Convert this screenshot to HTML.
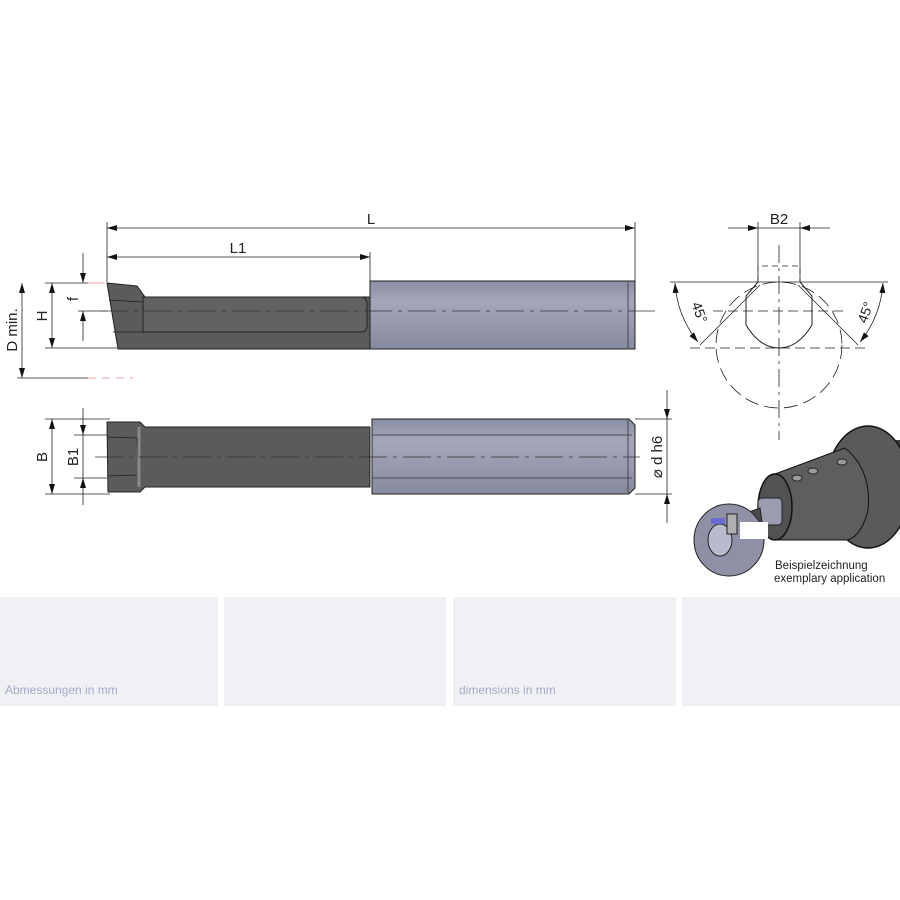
<!DOCTYPE html>
<html><head><meta charset="utf-8"><style>
html,body{margin:0;padding:0;background:#fff;width:900px;height:900px;overflow:hidden}
svg{display:block}
text{font-family:"Liberation Sans",sans-serif;fill:#222}
</style></head><body>
<svg width="900" height="900" viewBox="0 0 900 900">
<defs>
<marker id="a" viewBox="0 0 10 6" refX="10" refY="3" markerWidth="10" markerHeight="6" orient="auto-start-reverse" markerUnits="userSpaceOnUse"><path d="M0,0L10,3L0,6z" fill="#111"/></marker>
<linearGradient id="sh" x1="0" y1="0" x2="0" y2="1"><stop offset="0" stop-color="#8a8ea3"/><stop offset="0.3" stop-color="#a4a7ba"/><stop offset="0.6" stop-color="#989bb0"/><stop offset="1" stop-color="#868a9f"/></linearGradient>
<clipPath id="fl"><rect x="820" y="400" width="80" height="200"/></clipPath>
</defs>

<rect x="0" y="597" width="218" height="109" fill="#f0f1f5"/>
<rect x="224" y="597" width="222" height="109" fill="#f0f1f5"/>
<rect x="453" y="597" width="223" height="109" fill="#f0f1f5"/>
<rect x="682" y="597" width="218" height="109" fill="#f0f1f5"/>
<text x="5" y="694" font-size="12" style="fill:#a7a9c8">Abmessungen in mm</text>
<text x="459" y="694" font-size="12" style="fill:#a7a9c8">dimensions in mm</text>

<g stroke="#222" stroke-width="0.8" fill="none">
<line x1="107" y1="222" x2="107" y2="282"/>
<line x1="635" y1="222" x2="635" y2="282"/>
<line x1="370" y1="252" x2="370" y2="282"/>
<line x1="107" y1="228" x2="635" y2="228" marker-start="url(#a)" marker-end="url(#a)"/>
<line x1="107" y1="257" x2="370" y2="257" marker-start="url(#a)" marker-end="url(#a)"/>
<line x1="45" y1="283" x2="88" y2="283"/>
<line x1="45" y1="348" x2="117" y2="348"/>
<line x1="17" y1="378" x2="88" y2="378"/>
<line x1="78" y1="311" x2="107" y2="311"/>
<line x1="52" y1="283" x2="52" y2="348" marker-start="url(#a)" marker-end="url(#a)"/>
<line x1="22" y1="283" x2="22" y2="378" marker-start="url(#a)" marker-end="url(#a)"/>
<line x1="83" y1="253" x2="83" y2="283" marker-end="url(#a)"/>
<line x1="83" y1="341" x2="83" y2="311" marker-end="url(#a)"/>
</g>
<line x1="88" y1="283" x2="105" y2="283" stroke="#e88" stroke-width="0.8"/>
<line x1="88" y1="378" x2="133" y2="378" stroke="#e88" stroke-width="0.8" stroke-dasharray="8,6"/>

<path d="M107,283 L137,286 L145,297 L370,297 L370,349 L118,349 Z" fill="#5b5b5d" stroke="#222" stroke-width="1"/>
<path d="M143,297 L360,297 Q367,297 367,304 L367,326 Q367,332 360,332 L143,332 Z" fill="#626264" stroke="#222" stroke-width="1"/>
<path d="M109,300 L143,302 L143,332 L113,332" fill="none" stroke="#222" stroke-width="0.8"/>
<rect x="370" y="281" width="265" height="68" fill="url(#sh)" stroke="#222" stroke-width="1"/>
<line x1="628" y1="282" x2="628" y2="348" stroke="#333" stroke-width="0.8"/>
<line x1="100" y1="311" x2="655" y2="311" stroke="#333" stroke-width="0.8" stroke-dasharray="28,6,4,6"/>

<g stroke="#222" stroke-width="0.8" fill="none">
<line x1="45" y1="419" x2="110" y2="419"/>
<line x1="45" y1="494" x2="110" y2="494"/>
<line x1="74" y1="435" x2="110" y2="435"/>
<line x1="74" y1="478" x2="110" y2="478"/>
<line x1="52" y1="419" x2="52" y2="494" marker-start="url(#a)" marker-end="url(#a)"/>
<line x1="83" y1="408" x2="83" y2="435" marker-end="url(#a)"/>
<line x1="83" y1="505" x2="83" y2="478" marker-end="url(#a)"/>
<line x1="83" y1="435" x2="83" y2="478"/>
<line x1="635" y1="419" x2="672" y2="419"/>
<line x1="635" y1="494" x2="672" y2="494"/>
<line x1="667" y1="390" x2="667" y2="419" marker-end="url(#a)"/>
<line x1="667" y1="523" x2="667" y2="494" marker-end="url(#a)"/>
<line x1="667" y1="419" x2="667" y2="494"/>
</g>
<path d="M107,422 L140,422 L145,427 L370,427 L370,487 L145,487 L140,492 L108,492 Z" fill="#5b5b5d" stroke="#222" stroke-width="1"/>
<path d="M107,437 L137,438 L139,486 M107,476 L137,475" fill="none" stroke="#222" stroke-width="0.8"/>
<line x1="139" y1="427" x2="139" y2="487" stroke="#888" stroke-width="3"/>
<path d="M372,419 L629,419 L635,425 L635,488 L629,494 L372,494 Z" fill="url(#sh)" stroke="#222" stroke-width="1"/>
<line x1="372" y1="435" x2="632" y2="435" stroke="#333" stroke-width="0.8"/>
<line x1="372" y1="478" x2="632" y2="478" stroke="#333" stroke-width="0.8"/>
<line x1="628" y1="420" x2="628" y2="493" stroke="#333" stroke-width="0.8"/>
<line x1="95" y1="457" x2="640" y2="457" stroke="#333" stroke-width="0.8" stroke-dasharray="28,6,4,6"/>

<text x="371" y="224" font-size="15" text-anchor="middle">L</text>
<text x="238" y="253" font-size="15" text-anchor="middle">L1</text>
<text transform="translate(78,299) rotate(-90)" font-size="15" text-anchor="middle">f</text>
<text transform="translate(47,316) rotate(-90)" font-size="15" text-anchor="middle">H</text>
<text transform="translate(17,330) rotate(-90)" font-size="15" text-anchor="middle">D min.</text>
<text transform="translate(47,457) rotate(-90)" font-size="15" text-anchor="middle">B</text>
<text transform="translate(78,457) rotate(-90)" font-size="15" text-anchor="middle">B1</text>
<text transform="translate(662,457) rotate(-90)" font-size="15" text-anchor="middle">⌀ d h6</text>

<g stroke="#222" stroke-width="0.8" fill="none">
<line x1="758" y1="222" x2="758" y2="282"/>
<line x1="800" y1="222" x2="800" y2="282"/>
<line x1="728" y1="228" x2="758" y2="228" marker-end="url(#a)"/>
<line x1="830" y1="228" x2="800" y2="228" marker-end="url(#a)"/>
<line x1="758" y1="228" x2="800" y2="228"/>
<line x1="670" y1="282" x2="888" y2="282"/>
<path d="M758,282 L758,266 L800,266 L800,282" stroke-dasharray="6,4"/>
<path d="M758,282 L746,296 L746,325 Q760,348 779,348 Q798,348 812,325 L812,296 L800,282" stroke-width="1"/>
<circle cx="779" cy="345" r="63" stroke-dasharray="14,6"/>
<line x1="779" y1="245" x2="779" y2="440" stroke-dasharray="18,5,3,5"/>
<line x1="690" y1="348" x2="868" y2="348" stroke-dasharray="10,5"/>
<line x1="713" y1="311" x2="845" y2="311" stroke-dasharray="10,5"/>
<line x1="700" y1="345" x2="760" y2="285"/>
<line x1="858" y1="345" x2="798" y2="285"/>
<path d="M675,283 A105,105 0 0 0 698,342" marker-start="url(#a)" marker-end="url(#a)"/>
<path d="M883,283 A105,105 0 0 1 860,342" marker-start="url(#a)" marker-end="url(#a)"/>
</g>
<text x="779" y="224" font-size="15" text-anchor="middle">B2</text>
<text transform="translate(695,314) rotate(70)" font-size="14" text-anchor="middle">45°</text>
<text transform="translate(870,314) rotate(-70)" font-size="14" text-anchor="middle">45°</text>

<!-- 3D illustration -->
<rect x="880" y="440" width="20" height="80" fill="#3e3e40"/>
<g clip-path="url(#fl)"><ellipse cx="868" cy="487" rx="42" ry="61" fill="#5a5a5c" stroke="#111" stroke-width="1.5"/></g>
<path d="M775,474 L845,448 Q872,470 868,510 Q862,535 848,540 L775,540 Z" fill="#5e5e60" stroke="#111"/>
<ellipse cx="775" cy="507" rx="17" ry="33" fill="#525254" stroke="#111" stroke-width="1.5"/>
<ellipse cx="797" cy="478" rx="5" ry="3" fill="#999" stroke="#222"/>
<ellipse cx="813" cy="471" rx="5" ry="3" fill="#999" stroke="#222"/>
<ellipse cx="842" cy="462" rx="5" ry="3" fill="#999" stroke="#222"/>
<rect x="758" y="498" width="24" height="27" rx="4" fill="#9a9db0" stroke="#222"/>
<path d="M730,519 L760,508 L762,522 L735,535 Z" fill="#4a4a4c" stroke="#222"/>
<ellipse cx="729" cy="540" rx="35" ry="36" fill="#8e91a5" stroke="#222"/>
<rect x="740" y="522" width="28" height="17" fill="#fff"/>
<ellipse cx="720" cy="540" rx="12" ry="16" fill="#b8bbcc" stroke="#222"/>
<rect x="727" y="514" width="10" height="20" fill="#b0b0b0" stroke="#222"/>
<rect x="711" y="518" width="14" height="6" fill="#6a6ad0"/>
<text x="775" y="569" font-size="11.5">Beispielzeichnung</text>
<text x="774" y="582" font-size="11.5">exemplary application</text>
</svg>
</body></html>
